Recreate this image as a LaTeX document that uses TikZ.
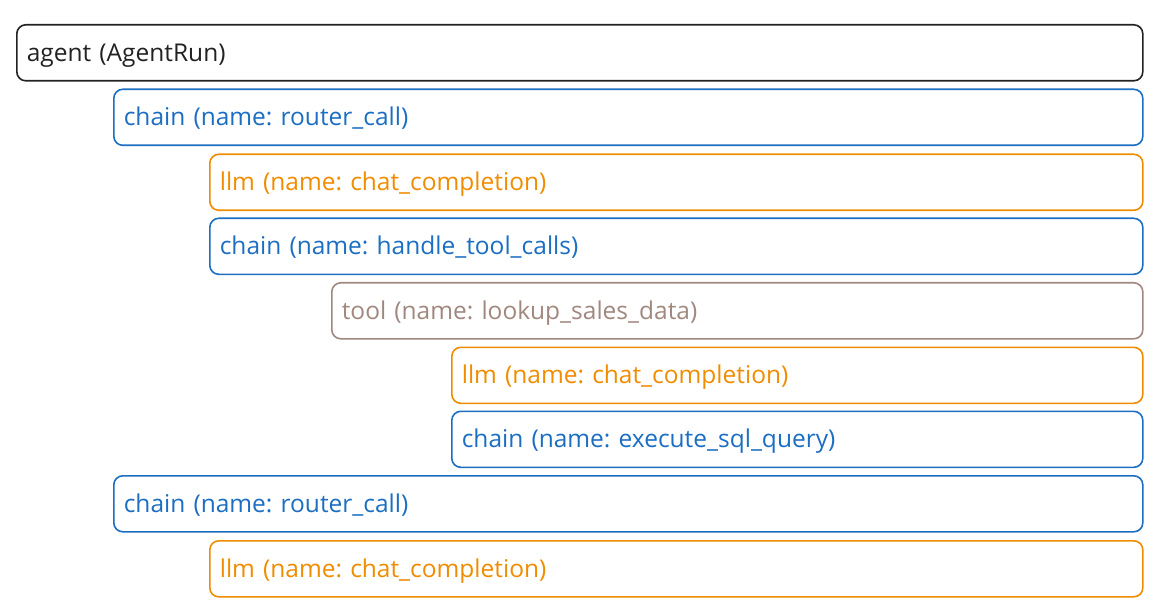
\documentclass[tikz,border=0pt]{standalone}
\usepackage{fontspec}
\setmainfont{Open Sans}
\frenchspacing
\definecolor{agentcol}{HTML}{222222}
\definecolor{chaincol}{HTML}{1B6EC2}
\definecolor{llmcol}{HTML}{F08C00}
\definecolor{toolcol}{HTML}{A1887F}
\begin{document}
\begin{tikzpicture}[x=1bp, y=-1bp,
    span/.style={draw, line width=1.6bp, rounded corners=9bp, anchor=north west,
        minimum height=56bp, inner xsep=10bp, inner ysep=0pt, align=left,
        text height=21bp, text depth=4bp,
        font=\fontsize{24.5bp}{28bp}\selectfont}]
    \useasboundingbox (0,0) rectangle (1162,615);

    \node[span, agentcol, text width=1106bp] (agent) at (16,24) {agent (AgentRun)};
    \node[span, chaincol, text width=1009bp] (router) at (113,88.5) {chain (name: router\_call)};
    \node[span, llmcol, text width=913bp] (chatllm) at (209,153.5) {llm (name: chat\_completion)};
    \node[span, chaincol, text width=913bp] (handle) at (209,217.5) {chain (name: handle\_tool\_calls)};
    \node[span, toolcol, text width=791bp] (lookup) at (331,282) {tool (name: lookup\_sales\_data)};
    \node[span, llmcol, text width=671bp] (sqlllm) at (451,346.5) {llm (name: chat\_completion)};
    \node[span, chaincol, text width=671bp] (execsql) at (451,410.5) {chain (name: execute\_sql\_query)};
    \node[span, chaincol, text width=1009bp] (routertwo) at (113,475) {chain (name: router\_call)};
    \node[span, llmcol, text width=913bp] (chatllmtwo) at (209,540) {llm (name: chat\_completion)};

\end{tikzpicture}
\end{document}
